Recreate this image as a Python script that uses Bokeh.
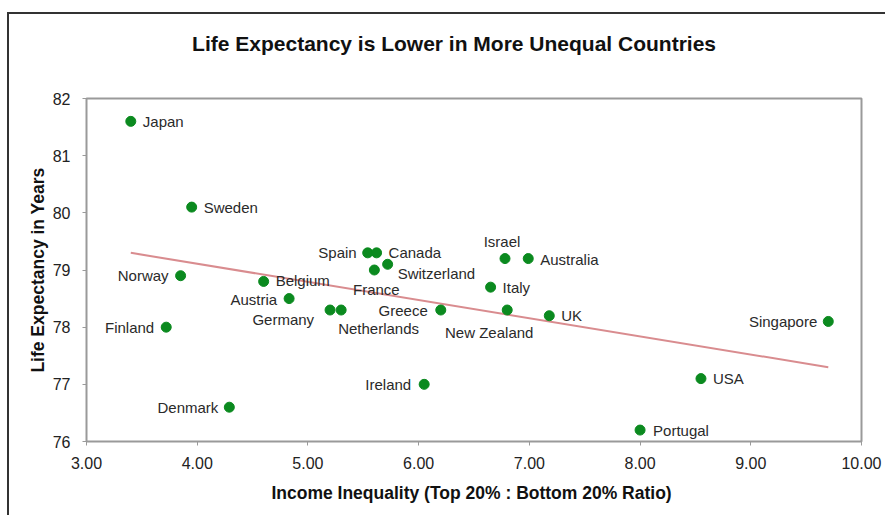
from bokeh.plotting import figure
from bokeh.models import (ColumnDataSource, Range1d, FixedTicker, NumeralTickFormatter,
                          LinearAxis)
from bokeh.core.properties import value
from bokeh.embed import file_html
from bokeh.resources import INLINE

# ---- data ----
countries = ["Japan", "Sweden", "Norway", "Belgium", "Austria", "Finland", "Denmark",
             "Spain", "Canada", "Switzerland", "France", "Germany", "Netherlands",
             "Greece", "Israel", "Australia", "Italy", "New Zealand", "UK",
             "Singapore", "Ireland", "USA", "Portugal"]
inequality = [3.40, 3.95, 3.85, 4.60, 4.83, 3.72, 4.29,
              5.54, 5.62, 5.72, 5.60, 5.20, 5.30,
              6.20, 6.78, 6.99, 6.65, 6.80, 7.18,
              9.70, 6.05, 8.55, 8.00]
life_expectancy = [81.6, 80.1, 78.9, 78.8, 78.5, 78.0, 76.6,
                   79.3, 79.3, 79.1, 79.0, 78.3, 78.3,
                   78.3, 79.2, 79.2, 78.7, 78.3, 78.2,
                   78.1, 77.0, 77.1, 76.2]
trend_x = [3.40, 9.70]
trend_y = [79.30, 77.30]
x_ticks = [3, 4, 5, 6, 7, 8, 9, 10]
y_ticks = [76, 77, 78, 79, 80, 81, 82]
title_text = "Life Expectancy is Lower in More Unequal Countries"
x_title = "Income Inequality (Top 20% : Bottom 20%  Ratio)"
y_title = "Life Expectancy in Years"

# ---- layout / style constants ----
TITLE_CENTER = 6.32   # horizontal anchor of the chart title (sits left of the frame centre)

# ---- label placement (style only) ----
placement = {
    "Japan": ("left", 12, 0), "Sweden": ("left", 12, 0), "Norway": ("right", -12, 0),
    "Belgium": ("left", 12, -1), "Austria": ("right", -12, 1), "Finland": ("right", -12, 0),
    "Denmark": ("right", -11, 0), "Spain": ("right", -11, 0), "Canada": ("left", 12, 0),
    "Switzerland": ("left", 10, 9), "France": ("center", 2, 19), "Germany": ("right", -16, 9),
    "Netherlands": ("left", -3, 18), "Greece": ("right", -13, 0), "Israel": ("center", -3, -17),
    "Australia": ("left", 12, 1), "Italy": ("left", 12, 0), "New Zealand": ("center", -18, 22),
    "UK": ("left", 12, 0), "Singapore": ("right", -11, 0), "Ireland": ("right", -13, 0),
    "USA": ("left", 12, 0), "Portugal": ("left", 13, 0),
}

src = ColumnDataSource(dict(
    x=inequality, y=life_expectancy, name=countries,
    align=[placement[c][0] for c in countries],
    dx=[placement[c][1] for c in countries],
    dy=[placement[c][2] for c in countries],
))

p = figure(width=878, height=503, output_backend="svg", toolbar_location=None,
           x_range=Range1d(3, 10), y_range=Range1d(76, 82),
           min_border_left=77, min_border_right=26, min_border_top=84, min_border_bottom=76)
p.styles = {"border-left": "2px solid #333333", "border-top": "2px solid #333333",
            "margin-top": "12px", "margin-left": "7px"}

p.grid.visible = False
p.outline_line_color = "#9a9a9a"
p.outline_line_width = 2
p.background_fill_color = "white"
p.border_fill_color = "white"

for ax in (p.xaxis[0], p.yaxis[0]):
    ax.axis_line_color = None
    ax.major_tick_line_color = "#9a9a9a"
    ax.major_tick_line_width = 1
    ax.major_tick_in = 0
    ax.major_tick_out = 4
    ax.minor_tick_line_color = None
    ax.major_label_text_font = "Liberation Sans"
    ax.major_label_text_font_size = "16px"
    ax.major_label_text_color = "#222222"
    ax.axis_label_text_font = "Liberation Sans"
    ax.axis_label_text_font_size = "17.5px"
    ax.axis_label_text_font_style = "bold"
    ax.axis_label_text_color = "#111111"

p.xaxis.ticker = FixedTicker(ticks=x_ticks)
p.yaxis.ticker = FixedTicker(ticks=y_ticks)
p.xaxis.formatter = NumeralTickFormatter(format="0.00")
p.xaxis.axis_label = x_title
p.yaxis.axis_label = y_title
p.xaxis.major_label_standoff = 11
p.yaxis.major_label_standoff = 12
p.xaxis.axis_label_standoff = 11
p.yaxis.axis_label_standoff = 2

# chart title drawn as the single label of an extra, otherwise invisible, top axis
title_axis = LinearAxis(ticker=FixedTicker(ticks=[TITLE_CENTER]),
                        major_label_overrides={TITLE_CENTER: title_text})
title_axis.axis_line_color = None
title_axis.major_tick_line_color = None
title_axis.minor_tick_line_color = None
title_axis.major_tick_out = 0
title_axis.major_tick_in = 0
title_axis.major_label_standoff = 44
title_axis.major_label_text_font = "Liberation Sans"
title_axis.major_label_text_font_size = "21px"
title_axis.major_label_text_font_style = "bold"
title_axis.major_label_text_color = "#111111"
p.add_layout(title_axis, "above")

p.line(trend_x, trend_y, line_color="#d98c8f", line_width=2)
p.scatter("x", "y", source=src, size=10, fill_color="#0b8a1f", line_color="#0b8a1f")
p.text("x", "y", text="name", source=src, text_align="align", text_baseline="middle",
       x_offset="dx", y_offset="dy", text_font=value("Liberation Sans"),
       text_font_size="15px", text_color="#2a2a2a")

open("out.html", "w").write(file_html(p, INLINE))
